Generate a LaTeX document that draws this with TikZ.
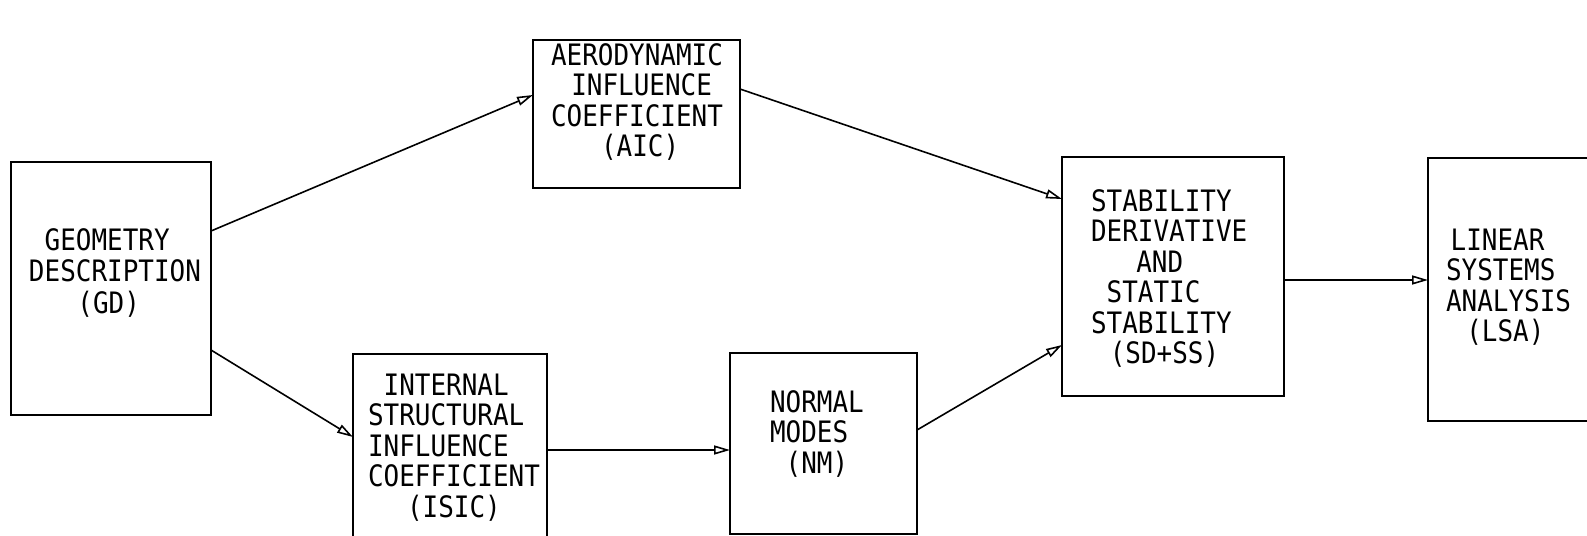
\documentclass[tikz,border=0pt]{standalone}
\usepackage{fontspec}
\newfontfamily\plotfont[FakeStretch=0.88]{DejaVu Sans Mono}
\usetikzlibrary{arrows.meta}
\newdimen\chw
\newcommand\mkline[2]{\hbox{\hspace*{#1\chw}#2}}
\newcommand\txt[2][15.25pt]{\vtop{\plotfont\fontsize{14.75pt}{#1}\selectfont\settowidth{\chw}{M}#2}}
\begin{document}
\begin{tikzpicture}[x=0.5pt,y=-0.5pt,
  box/.style={draw, line width=0.9pt, inner sep=0pt, outer sep=0pt},
  lbl/.style={inner sep=0pt, outer sep=0pt, anchor=base west},
  conn/.style={line width=0.8pt, -{Triangle[open, length=8pt, width=4.5pt]}}]
\useasboundingbox (0,0) rectangle (1587,536);
% boxes
\node[box, minimum width=100pt, minimum height=126.5pt] (gd) at (111,288.5) {};
\node[box, minimum width=103.5pt, minimum height=74pt] (aic) at (636.5,114) {};
\node[box, minimum width=97pt, minimum height=95.5pt] (isic) at (450,449.5) {};
\node[box, minimum width=93.5pt, minimum height=90.5pt] (nm) at (823.5,443.5) {};
\node[box, minimum width=111pt, minimum height=119.5pt] (sd) at (1173,276.5) {};
\node[box, minimum width=91pt, minimum height=131.5pt] (lsa) at (1519,289.5) {};
% texts
\node[lbl] (gdt) at (29,250) {\txt[15.75pt]{\mkline{1}{GEOMETRY}\mkline{0}{DESCRIPTION}\mkline{3.1}{(GD)}}};
\node[lbl] (aict) at (551,65) {\txt{\mkline{0}{AERODYNAMIC}\mkline{1.3}{INFLUENCE}\mkline{0}{COEFFICIENT}\mkline{3.2}{(AIC)}}};
\node[lbl] (isict) at (368,395) {\txt{\mkline{1}{INTERNAL}\mkline{0}{STRUCTURAL}\mkline{0}{INFLUENCE}\mkline{0}{COEFFICIENT}\mkline{2.5}{(ISIC)}}};
\node[lbl] (nmt) at (770,412) {\txt{\mkline{0}{NORMAL}\mkline{0}{MODES}\mkline{1}{(NM)}}};
\node[lbl] (sdt) at (1091,211) {\txt{\mkline{0}{STABILITY}\mkline{0}{DERIVATIVE}\mkline{2.9}{AND}\mkline{1}{STATIC}\mkline{0}{STABILITY}\mkline{1.2}{(SD+SS)}}};
\node[lbl] (lsat) at (1446,250) {\txt{\mkline{0.3}{LINEAR}\mkline{0}{SYSTEMS}\mkline{0}{ANALYSIS}\mkline{1.3}{(LSA)}}};
% connectors
\draw[conn] ([yshift=28.75pt]gd.east) -- ([yshift=9.5pt]aic.west);
\draw[conn] ([yshift=-30.75pt]gd.east) -- ([yshift=6.25pt]isic.west);
\draw[conn] ([yshift=12.5pt]aic.east) -- ([yshift=38.75pt]sd.west);
\draw[conn] ([yshift=-0.25pt]isic.east) -- ([yshift=-3.25pt]nm.west);
\draw[conn] ([yshift=6.75pt]nm.east) -- ([yshift=-34.25pt]sd.west);
\draw[conn] ([yshift=-1.75pt]sd.east) -- ([yshift=4.75pt]lsa.west);
\end{tikzpicture}
\end{document}
